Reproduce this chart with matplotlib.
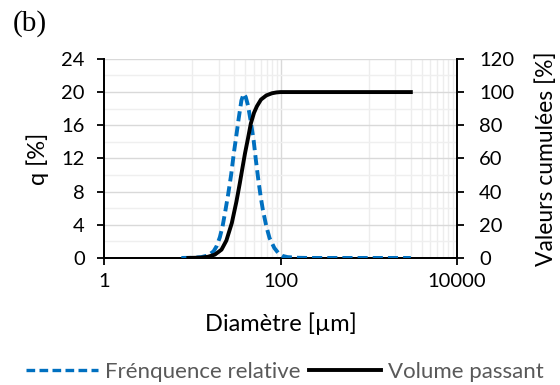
import numpy as np
import matplotlib.pyplot as plt
from matplotlib.ticker import FixedLocator
from matplotlib.lines import Line2D

# particle size (um) and relative frequency q (%)
d_freq = [7.5, 10, 12.6, 15.1, 17.4, 18.8, 20.5, 22, 23.6, 25.4, 27.5, 29.5, 31, 33.5, 36, 38.2,
          40.3, 42.7, 45.7, 49.5, 52.5, 56, 59.5, 63, 69, 75, 85, 95, 105, 120, 158, 200, 500, 1000, 3000]
q_freq = [0, 0.02, 0.1, 0.3, 0.8, 1.4, 2.5, 3.8, 5.6, 7.6, 10, 12.6, 14.2, 16.8, 19.0, 19.8,
          19.4, 18.4, 16.6, 14.2, 11.8, 9.4, 7.4, 5.8, 3.8, 2.4, 1.2, 0.55, 0.25, 0.1, 0.02, 0, 0, 0, 0]

# cumulative passing volume (%)
d_cum = [9, 12.6, 15, 18, 21.4, 24.3, 28, 31.6, 34.5, 36.9, 39.5, 42.7, 46, 50, 54, 60, 69, 80, 90,
         100, 200, 1000, 3000]
v_cum = [0, 0.2, 0.7, 2, 5, 10.5, 21, 34, 45, 54, 63, 72, 81, 87.5, 91.5, 95.5, 98, 99.3, 99.8,
         100, 100, 100, 100]

plt.rcParams['font.family'] = ['Lato', 'DejaVu Sans']
blue = '#0070C0'
dash = (0, (2.6, 1.3))

fig = plt.figure(figsize=(5.6, 3.85), dpi=100)
ax = fig.add_axes([0.186, 0.330, 0.630, 0.517])
ax2 = ax.twinx()

ax.set_xscale('log')
ax.set_xlim(1, 10000)
ax.set_ylim(0, 24)
ax2.set_ylim(0, 120)

# Excel-like grid
minor_x = [10, 20, 30, 40, 50, 60, 70, 80, 90, 1000, 2000, 3000, 4000, 5000, 6000, 7000, 8000, 9000]
for v in minor_x:
    ax.axvline(v, color='#ededed', lw=1.0, zorder=0)
ax.axvline(100, color='#d9d9d9', lw=1.0, zorder=0)
for v in np.arange(2, 25, 4):
    ax.axhline(v, color='#efefef', lw=1.0, zorder=0)
for v in np.arange(4, 25, 4):
    ax.axhline(v, color='#d9d9d9', lw=1.0, zorder=0)

ax2.plot(d_freq, np.array(q_freq) * 5, color=blue, lw=2.8, ls=dash, zorder=3)
ax2.plot(d_cum, v_cum, color='black', lw=2.8, zorder=4)

ax.xaxis.set_major_locator(FixedLocator([1, 100, 10000]))
ax.xaxis.set_minor_locator(FixedLocator([]))
ax.set_xticklabels(['1', '100', '10000'])
ax.set_yticks(np.arange(0, 25, 4))
ax2.set_yticks(np.arange(0, 121, 20))

for a in (ax, ax2):
    a.spines['top'].set_visible(False)
    for s in a.spines.values():
        s.set_linewidth(1.3)
    a.tick_params(labelsize=14.5, colors='black', width=1.3, length=5, direction='out')
ax.tick_params(axis='x', pad=6)
ax.tick_params(axis='y', pad=9)
ax2.tick_params(axis='y', pad=11)

ax.set_ylabel('q [%]', fontsize=17, labelpad=8.5)
ax2.set_ylabel('Valeurs cumulées [%]', fontsize=16.5, labelpad=15)
ax.set_xlabel('Diamètre [µm]', fontsize=17, labelpad=16)

fig.text(0.023, 0.975, '(b)', fontsize=21, family='Liberation Serif', va='top')

# legend
h1 = Line2D([], [], color=blue, lw=2.4, ls=dash)
h2 = Line2D([], [], color='black', lw=2.8)
fig.legend([h1, h2], ['Frénquence relative', 'Volume passant'], loc='center',
           bbox_to_anchor=(0.509, 0.034), ncol=2, frameon=False, fontsize=16,
           labelcolor='#595959', handlelength=3.25, handletextpad=0.32, columnspacing=0.36,
           borderpad=0, borderaxespad=0)

fig.savefig('out.png', dpi=100)
